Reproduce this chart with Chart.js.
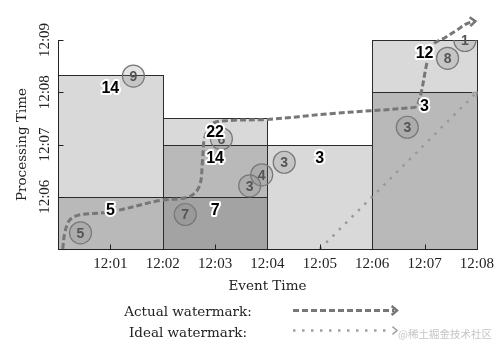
<!DOCTYPE html>
<html>
<head>
<meta charset="utf-8">
<script src="https://cdn.jsdelivr.net/npm/chart.js@4.4.0/dist/chart.umd.min.js"></script>
<style>
  html, body { margin: 0; padding: 0; background: #fff; }
</style>
</head>
<body>
<canvas id="myChart" width="500" height="354"></canvas>
<script>
// all times are minutes after 12:00
const xTickLabels = ['', '12:01', '12:02', '12:03', '12:04', '12:05', '12:06', '12:07', '12:08'];
const yTickLabels = ['', '12:06', '12:07', '12:08', '12:09']; // 12:05 .. 12:09

// windows (event time)
const windowStart = [0, 2, 4, 6];
const windowEnd = [2, 4, 6, 8];

// panes: which window, processing time range, shade kind, emitted sum
const paneWindow = [0, 0, 1, 1, 1, 2, 3, 3];
const paneFrom = [5, 6, 5, 6, 7, 5, 5, 8];
const paneTo = [6, 8.33, 6, 7, 7.5, 7, 8, 9];
const paneKind = [1, 0, 2, 1, 0, 0, 1, 0];
const paneSum = [5, 14, 7, 14, 22, 3, 3, 12];

// input records
const eventTimes = [0.43, 1.44, 2.43, 3.12, 3.66, 3.89, 4.32, 6.67, 7.44, 7.77];
const procTimes = [5.31, 8.31, 5.66, 7.11, 6.21, 6.42, 6.66, 7.33, 8.65, 8.99];
const recordValues = [5, 9, 7, 6, 3, 4, 3, 3, 8, 1];

// actual watermark
const wmEvent = [0.09, 0.13, 0.22, 0.4, 1.0, 1.95, 2.5, 2.7, 2.76, 2.8, 2.95, 3.3, 4.0, 5.2, 6.7, 6.84, 6.93, 7.05, 7.16, 7.38, 7.62, 7.8, 7.97];
const wmProc = [5.0, 5.31, 5.55, 5.65, 5.71, 5.93, 6.0, 6.2, 6.7, 7.12, 7.4, 7.46, 7.48, 7.59, 7.70, 7.73, 7.97, 8.58, 8.91, 9.04, 9.19, 9.31, 9.36];

// ideal watermark
const idealEvent = [5, 8];
const idealProc = [5, 8];

const shade = ['#d9d9d9', '#b9b9b9', '#a3a3a3'];
const serif = 'Liberation Serif';
const titleFont = { family: 'DejaVu Serif', size: 13.5 };

function chevron(ctx, x, y, ang, size) {
    ctx.beginPath();
    ctx.moveTo(x - size * Math.cos(ang - 0.7), y - size * Math.sin(ang - 0.7));
    ctx.lineTo(x, y);
    ctx.lineTo(x - size * Math.cos(ang + 0.7), y - size * Math.sin(ang + 0.7));
    ctx.stroke();
}

const panesPlugin = {
    id: 'panes',
    beforeDatasetsDraw(chart) {
        const { ctx, scales: { x, y } } = chart;
        ctx.save();
        paneWindow.forEach((w, i) => {
            const x0 = Math.round(x.getPixelForValue(windowStart[w]));
            const x1 = Math.round(x.getPixelForValue(windowEnd[w]));
            const y0 = Math.round(y.getPixelForValue(paneFrom[i]));
            const y1 = Math.round(y.getPixelForValue(paneTo[i]));
            ctx.fillStyle = shade[paneKind[i]];
            ctx.fillRect(x0, y1, x1 - x0, y0 - y1);
        });
        ctx.strokeStyle = '#2b2b2b';
        ctx.lineWidth = 1;
        paneWindow.forEach((w, i) => {
            const x0 = Math.round(x.getPixelForValue(windowStart[w]));
            const x1 = Math.round(x.getPixelForValue(windowEnd[w]));
            const y0 = Math.round(y.getPixelForValue(paneFrom[i]));
            const y1 = Math.round(y.getPixelForValue(paneTo[i]));
            ctx.strokeRect(x0 + 0.5, y1 + 0.5, x1 - x0, y0 - y1);
        });
        ctx.restore();
    },
    afterDatasetsDraw(chart) {
        const { ctx, scales: { x, y } } = chart;
        ctx.save();
        // axis lines and inward ticks
        ctx.strokeStyle = '#222';
        ctx.lineWidth = 1;
        const bottom = Math.round(y.getPixelForValue(5)) + 0.5;
        const top = Math.round(y.getPixelForValue(9));
        const left = Math.round(x.getPixelForValue(0)) + 0.5;
        const right = Math.round(x.getPixelForValue(8)) + 1;
        ctx.beginPath();
        ctx.moveTo(left, top); ctx.lineTo(left, bottom); ctx.lineTo(right, bottom);
        ctx.stroke();
        [1, 3, 5, 7].forEach(v => {
            const px = Math.round(x.getPixelForValue(v)) + 0.5;
            ctx.beginPath(); ctx.moveTo(px, bottom); ctx.lineTo(px, bottom - 5); ctx.stroke();
        });
        [6, 7, 8, 9].forEach(v => {
            const py = Math.round(y.getPixelForValue(v)) + 0.5;
            ctx.beginPath(); ctx.moveTo(left, py); ctx.lineTo(left + 5, py); ctx.stroke();
        });

        // arrow heads
        const wm = chart.getDatasetMeta(1).data;
        const a = wm[wm.length - 2], b = wm[wm.length - 1];
        ctx.strokeStyle = '#777';
        ctx.lineWidth = 2.5;
        chevron(ctx, b.x, b.y, Math.atan2(b.y - a.y, b.x - a.x) * 0.3, 7);
        const id = chart.getDatasetMeta(2).data;
        ctx.strokeStyle = '#999';
        ctx.lineWidth = 1.5;
        chevron(ctx, id[1].x, id[1].y, Math.atan2(id[1].y - id[0].y, id[1].x - id[0].x), 5);

        // record values in circles
        const pts = chart.getDatasetMeta(0).data;
        ctx.font = 'bold 14px "Liberation Sans"';
        ctx.textAlign = 'center';
        ctx.textBaseline = 'middle';
        ctx.fillStyle = '#555';
        pts.forEach((p, i) => ctx.fillText(String(recordValues[i]), p.x, p.y + 1));

        // pane sums
        ctx.font = 'bold 16px "Liberation Sans"';
        ctx.lineJoin = 'round';
        paneWindow.forEach((w, i) => {
            const px = x.getPixelForValue((windowStart[w] + windowEnd[w]) / 2);
            const py = y.getPixelForValue(paneTo[i]) + 14;
            ctx.strokeStyle = '#fff';
            ctx.lineWidth = 4;
            ctx.strokeText(String(paneSum[i]), px, py);
            ctx.fillStyle = '#000';
            ctx.fillText(String(paneSum[i]), px, py);
        });
        ctx.restore();
    },
    afterDraw(chart) {
        const { ctx } = chart;
        ctx.save();
        ctx.font = '13.5px "DejaVu Serif"';
        ctx.fillStyle = '#222';
        ctx.textAlign = 'center';
        ctx.textBaseline = 'middle';
        ctx.fillText('Actual watermark:', 188, 312);
        ctx.fillText('Ideal watermark:', 188, 333);

        ctx.lineCap = 'butt';
        ctx.strokeStyle = '#777';
        ctx.lineWidth = 3;
        ctx.setLineDash([6, 3]);
        ctx.beginPath(); ctx.moveTo(293, 310.5); ctx.lineTo(394, 310.5); ctx.stroke();
        ctx.setLineDash([]);
        ctx.lineWidth = 2.5;
        chevron(ctx, 397, 310.5, 0, 7);

        ctx.strokeStyle = '#a0a0a0';
        ctx.lineWidth = 2.5;
        ctx.setLineDash([2.5, 6.5]);
        ctx.beginPath(); ctx.moveTo(293, 330.5); ctx.lineTo(392, 330.5); ctx.stroke();
        ctx.setLineDash([]);
        ctx.lineWidth = 1.5;
        chevron(ctx, 397, 330.5, 0, 6);

        ctx.font = '10.5px "Noto Sans CJK SC"';
        ctx.fillStyle = '#c4c4c4';
        ctx.textAlign = 'left';
        ctx.fillText('@稀土掘金技术社区', 398, 334);
        ctx.restore();
    }
};

const ctx = document.getElementById('myChart').getContext('2d');
const myChart = new Chart(ctx, {
    type: 'scatter',
    data: {
        datasets: [{
            label: 'Records',
            data: eventTimes.map((e, i) => ({ x: e, y: procTimes[i] })),
            pointRadius: 11,
            pointHoverRadius: 11,
            backgroundColor: 'rgba(120,120,120,0.2)',
            borderColor: '#787878',
            borderWidth: 1.2
        }, {
            label: 'Actual watermark',
            data: wmEvent.map((e, i) => ({ x: e, y: wmProc[i] })),
            showLine: true,
            tension: 0.35,
            borderColor: '#777',
            borderWidth: 3,
            borderDash: [6, 3],
            pointRadius: 0,
            clip: false
        }, {
            label: 'Ideal watermark',
            data: idealEvent.map((e, i) => ({ x: e, y: idealProc[i] })),
            showLine: true,
            borderColor: '#999',
            borderWidth: 2.5,
            borderDash: [2.5, 6.5],
            pointRadius: 0,
            clip: false
        }]
    },
    options: {
        responsive: false,
        animation: false,
        events: [],
        layout: { padding: { left: 0, top: 40, right: 23, bottom: 59 } },
        plugins: { legend: { display: false }, tooltip: { enabled: false } },
        scales: {
            x: {
                type: 'linear',
                min: 0, max: 8,
                afterFit: s => { s.height = 46; },
                grid: { display: false, drawTicks: false },
                border: { display: false },
                ticks: {
                    stepSize: 1,
                    padding: 6,
                    color: '#222',
                    font: { family: serif, size: 15 },
                    callback: v => xTickLabels[v]
                },
                title: { display: true, text: 'Event Time', color: '#222', font: titleFont, padding: 0 }
            },
            y: {
                type: 'linear',
                min: 5, max: 9,
                afterFit: s => { s.width = 58; },
                grid: { display: false, drawTicks: false },
                border: { display: false },
                ticks: {
                    stepSize: 1,
                    padding: -4,
                    minRotation: 90,
                    maxRotation: 90,
                    crossAlign: 'center',
                    color: '#222',
                    font: { family: serif, size: 15 },
                    callback: v => yTickLabels[v - 5]
                },
                title: { display: true, text: 'Processing Time', color: '#222', font: titleFont, padding: { top: 14, bottom: 0 } }
            }
        }
    },
    plugins: [panesPlugin]
});
</script>
</body>
</html>
